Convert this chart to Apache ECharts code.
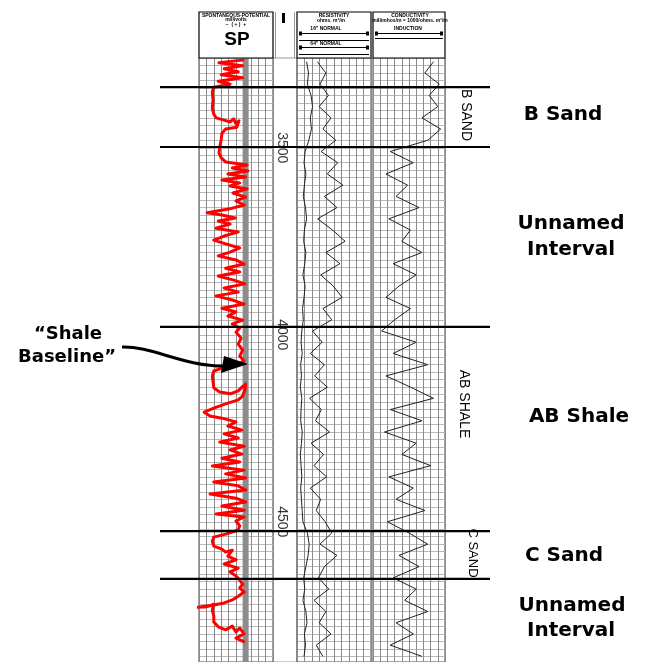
<!DOCTYPE html>
<html><head><meta charset="utf-8">
<script src="https://cdn.jsdelivr.net/npm/echarts@6/dist/echarts.min.js"></script>
<style>html,body{margin:0;padding:0;background:#fff;}#c{width:657px;height:662px;}</style>
</head><body><div id="c"></div>
<script>
// ---- data ----
const depthMin = 3260, depthMax = 4875;
const formationTops = [3338, 3498, 3979, 4525, 4653];
const depthTicks = [3500, 4000, 4500];
const shaleBaseline = -17; // mV
// SP curve: [millivolts, depth ft]
const spCurve = [
 [-19,3265],[-53,3273],[-21,3281],[-46,3289],[-27,3297],[-50,3305],[-21,3313],[-54,3322],[-38,3330],[-60,3338],
 [-62,3351],[-61,3372],[-62,3394],[-60,3410],[-57,3420],[-46,3426],[-38,3431],[-33,3423],[-30,3436],[-26,3428],
 [-29,3445],[-44,3450],[-49,3461],[-50,3479],[-52,3498],[-53,3514],[-50,3527],
 [-44,3538],[-15,3546],[-35,3554],[-14,3562],[-41,3570],[-17,3578],[-49,3586],[-25,3594],[-38,3602],[-15,3610],
 [-34,3621],[-17,3632],[-30,3642],[-19,3653],[-40,3664],[-69,3674],[-49,3680],[-31,3688],[-54,3696],[-38,3704],
 [-57,3715],[-27,3725],[-46,3736],[-60,3747],[-44,3757],[-25,3768],[-38,3779],[-54,3789],[-30,3800],[-19,3811],
 [-44,3822],[-25,3832],[-54,3843],[-33,3854],[-18,3864],[-46,3875],[-27,3886],[-57,3896],[-35,3907],[-19,3918],
 [-49,3929],[-30,3939],[-41,3950],[-21,3961],[-35,3971],[-25,3982],
 [-30,3993],[-23,4009],[-27,4025],[-21,4041],[-25,4057],[-19,4070],[-30,4081],[-49,4089],[-60,4097],[-62,4110],
 [-61,4126],[-60,4142],[-52,4153],[-38,4158],[-27,4150],[-22,4140],[-17,4132],[-18,4148],[-21,4164],[-27,4174],
 [-44,4185],[-60,4196],[-73,4207],[-65,4217],[-49,4223],[-30,4233],[-41,4244],[-22,4255],[-46,4265],[-27,4276],
 [-52,4287],[-19,4298],[-38,4308],[-22,4319],[-49,4330],[-25,4340],[-62,4351],[-19,4362],[-44,4372],[-17,4383],
 [-60,4394],[-27,4404],[-17,4415],[-65,4426],[-30,4437],[-17,4447],[-49,4458],[-19,4469],[-57,4479],[-19,4487],
 [-30,4498],[-25,4511],[-27,4522],
 [-44,4533],[-60,4541],[-62,4552],[-60,4565],[-49,4573],[-44,4581],[-35,4576],[-41,4592],[-30,4602],[-46,4613],
 [-27,4624],[-38,4634],[-30,4645],[-25,4656],
 [-21,4667],[-25,4677],[-19,4688],[-27,4699],[-35,4709],[-46,4717],[-62,4723],[-79,4728],[-108,4731],[-72,4728],
 [-65,4725],[-60,4720],[-62,4736],[-60,4752],[-60,4768],[-54,4781],[-44,4789],[-35,4779],[-30,4795],[-25,4784],
 [-19,4800],[-30,4811],[-18,4822]
];
const logDepths = [3270,3300,3330,3360,3390,3420,3450,3480,3510,3540,3570,3600,3630,3660,3690,3720,3750,3780,
 3810,3840,3870,3900,3930,3960,3990,4020,4050,4080,4110,4140,4170,4200,4230,4260,4290,4320,4350,4380,4410,4440,
 4470,4500,4530,4560,4590,4620,4650,4680,4710,4740,4770,4800,4830,4860];
const shortNormal = [2.6,3.1,2.8, 3.8,4.2,3.6,3.9,3.2,
 2.2,1.9,2.4,2.0,1.7,2.3,2.6,2.0,1.8,2.4,2.1,1.6,2.2,1.9,1.5,1.7,
 1.3,1.1,1.4,1.0,1.2,0.9,1.3,1.1,1.0,1.4,1.2,0.9,1.1,1.3,1.0,1.2,1.4,1.6,
 2.8,3.3,3.0,2.4, 1.8,2.1,1.6,2.4,2.7,2.0,2.3,1.9];
const longNormal = [5.5,7.8,6.2, 8.5,6.0,9.2,7.0,10.5,
 6.5,11.0,8.2,12.4,7.4,10.8,5.6,9.6,13.0,7.8,11.6,6.4,9.8,12.2,7.0,9.4,
 4.2,6.8,3.6,7.4,4.8,8.2,3.4,6.6,5.0,8.8,3.8,7.2,4.6,8.0,3.6,6.4,5.2,7.6,
 9.4,6.2,10.8,7.4, 5.8,8.6,4.6,7.8,6.0,9.2,5.2,7.0];
const conductivity = [420,360,460, 390,450,340,470,380,
 120,280,90,240,160,320,110,260,200,340,140,300,180,90,260,150,
 60,300,140,380,90,260,420,120,340,80,300,200,400,110,280,160,360,100,
 250,380,180,320, 140,300,220,380,160,280,120,340];

// ---- chart ----
const chart = echarts.init(document.getElementById('c'));
const T = 58, H = 604;
const hid = {show:false};
function trackX(idx, min, max, interval){
  return {gridIndex:idx, type:'value', min, max, interval,
    axisLine:hid, axisTick:hid, axisLabel:hid,
    splitLine:{show:true, lineStyle:{color:'#8a8a8a', width:1}}};
}
function trackY(idx, showSplit){
  return {gridIndex:idx, type:'value', inverse:true, min:depthMin, max:depthMax, interval:20,
    axisLine:hid, axisTick:hid, axisLabel:hid,
    splitLine:{show:showSplit, lineStyle:{color:'#b8b8b8', width:1}}};
}
const series = [];
formationTops.forEach(d => series.push({type:'line', xAxisIndex:0, yAxisIndex:0, data:[[0,d],[1,d]],
  showSymbol:false, silent:true, z:10, lineStyle:{color:'#000', width:2.2}}));
series.push({type:'line', xAxisIndex:1, yAxisIndex:1, data:[[shaleBaseline,depthMin],[shaleBaseline,depthMax]],
  showSymbol:false, silent:true, z:3, lineStyle:{color:'#8c8c8c', width:6}});
series.push({type:'line', xAxisIndex:1, yAxisIndex:1, data:spCurve, showSymbol:false, clip:false, z:5,
  lineStyle:{color:'#ff0000', width:3, join:'round'}});
series.push({type:'scatter', xAxisIndex:2, yAxisIndex:2, data:depthTicks.map(d=>[0.38,d]), symbolSize:0, z:6,
  label:{show:true, position:'inside', rotate:-90, formatter:p=>String(p.value[1]), fontSize:14,
  fontFamily:'Liberation Sans', color:'#000'}});
series.push({type:'line', xAxisIndex:3, yAxisIndex:3, data:logDepths.map((d,i)=>[shortNormal[i],d]),
  showSymbol:false, z:4, lineStyle:{color:'#222', width:1}});
series.push({type:'line', xAxisIndex:3, yAxisIndex:3, data:logDepths.map((d,i)=>[longNormal[i],d]),
  showSymbol:false, z:4, lineStyle:{color:'#222', width:1}});
series.push({type:'line', xAxisIndex:4, yAxisIndex:4, data:logDepths.map((d,i)=>[conductivity[i],d]),
  showSymbol:false, z:4, lineStyle:{color:'#222', width:1}});

const big = 'bold 20px "Comic Sans MS", "DejaVu Sans", sans-serif';
const tiny = 'bold 5px "Liberation Sans", sans-serif';
function txt(text, x, y, font, extra){ return Object.assign({type:'text', z:20, style:{text, x, y, font, fill:'#000', align:'center', verticalAlign:'middle'}}, extra||{}); }
function rtxt(text, x, y, size){ return {type:'text', x, y, rotation:-Math.PI/2, z:20,
  style:{text, x:0, y:0, font: size+'px "Liberation Sans", sans-serif', fill:'#000', align:'center', verticalAlign:'middle'}}; }
function hl(x1,x2,y,w){ return {type:'line', z:20, shape:{x1,y1:y,x2,y2:y}, style:{stroke:'#000', lineWidth:w||1}}; }

const graphic = [
  {type:'rect', z:19, shape:{x:199,y:12,width:74,height:46}, style:{fill:'#fff', stroke:'#000', lineWidth:1.2}},
  {type:'rect', z:19, shape:{x:297,y:12,width:74,height:46}, style:{fill:'#fff', stroke:'#000', lineWidth:1.2}},
  {type:'rect', z:19, shape:{x:373,y:12,width:72,height:46}, style:{fill:'#fff', stroke:'#000', lineWidth:1.2}},
  {type:'line', z:19, shape:{x1:275.5,y1:12,x2:275.5,y2:58}, style:{stroke:'#999', lineWidth:1}},
  {type:'line', z:19, shape:{x1:294.5,y1:12,x2:294.5,y2:58}, style:{stroke:'#999', lineWidth:1}},
  {type:'rect', z:20, shape:{x:282,y:13,width:3,height:10}, style:{fill:'#000'}},
  txt('SPONTANEOUS-POTENTIAL', 236, 15.5, tiny),
  txt('millivolts', 236, 20, tiny),
  txt('−  ( + )  +', 236, 25, tiny),
  txt('SP', 237, 40, 'bold 19px "Liberation Sans", Arial, sans-serif'),
  txt('RESISTIVITY', 334, 15.5, tiny),
  txt('ohms. m²/m', 331, 20.5, tiny),
  txt('16" NORMAL', 326, 29, tiny),
  hl(299,369,33.5,1.2), hl(299,369,40.5,1.2),
  txt('64" NORMAL', 326, 44, tiny),
  hl(299,369,47.5,1.2), hl(299,369,54.5,1),
  {type:'rect', z:20, shape:{x:299,y:31.5,width:3,height:4}, style:{fill:'#000'}},
  {type:'rect', z:20, shape:{x:366,y:31.5,width:3,height:4}, style:{fill:'#000'}},
  {type:'rect', z:20, shape:{x:299,y:45.5,width:3,height:4}, style:{fill:'#000'}},
  {type:'rect', z:20, shape:{x:366,y:45.5,width:3,height:4}, style:{fill:'#000'}},
  txt('CONDUCTIVITY', 410, 15.5, tiny),
  txt('millimhos/m = 1000/ohms. m²/m', 410, 20.5, tiny),
  txt('INDUCTION', 408, 29, tiny),
  hl(375,443,33.5,1.2), hl(375,443,38.5,1),
  {type:'rect', z:20, shape:{x:375,y:31.5,width:3,height:4}, style:{fill:'#000'}},
  {type:'rect', z:20, shape:{x:440,y:31.5,width:3,height:4}, style:{fill:'#000'}},
  rtxt('B SAND', 466, 115, 14),
  rtxt('AB SHALE', 464, 404, 14),
  rtxt('C SAND', 473, 553, 13),
  txt('B Sand', 563, 115, big),
  txt('Unnamed', 571, 224, big),
  txt('Interval', 571, 250, big),
  txt('AB Shale', 579, 417, big),
  txt('C Sand', 564, 556, big),
  txt('Unnamed', 572, 606, big),
  txt('Interval', 571, 631, big),
  txt('“Shale', 68, 334, 'bold 18px "Comic Sans MS", "DejaVu Sans", sans-serif'),
  txt('Baseline”', 67, 357, 'bold 18px "Comic Sans MS", "DejaVu Sans", sans-serif'),
  {type:'bezierCurve', z:20, shape:{x1:122,y1:347,cpx1:152,cpy1:346,cpx2:185,cpy2:367,x2:226,y2:366},
    style:{stroke:'#000', lineWidth:3, fill:null}},
  {type:'polygon', z:21, shape:{points:[[248,364],[224,356],[221,373]]}, style:{fill:'#000'}}
];

chart.setOption({
  animation:false,
  backgroundColor:'#fff',
  grid:[
    {left:160, top:T, width:330, height:H},
    {left:199, top:T, width:74, height:H, show:true, borderColor:'#444', borderWidth:1},
    {left:273, top:T, width:24, height:H, show:true, borderColor:'#999', borderWidth:1},
    {left:297, top:T, width:74, height:H, show:true, borderColor:'#444', borderWidth:1},
    {left:373, top:T, width:72, height:H, show:true, borderColor:'#444', borderWidth:1}
  ],
  xAxis:[
    {gridIndex:0, type:'value', min:0, max:1, show:false},
    trackX(1, -80, 20, 10),
    {gridIndex:2, type:'value', min:0, max:1, show:false},
    trackX(3, 0, 20, 2),
    trackX(4, 0, 500, 50)
  ],
  yAxis:[
    {gridIndex:0, type:'value', inverse:true, min:depthMin, max:depthMax, show:false},
    trackY(1, true),
    {gridIndex:2, type:'value', inverse:true, min:depthMin, max:depthMax, show:false},
    trackY(3, true),
    trackY(4, true)
  ],
  series,
  graphic
});
</script></body></html>
